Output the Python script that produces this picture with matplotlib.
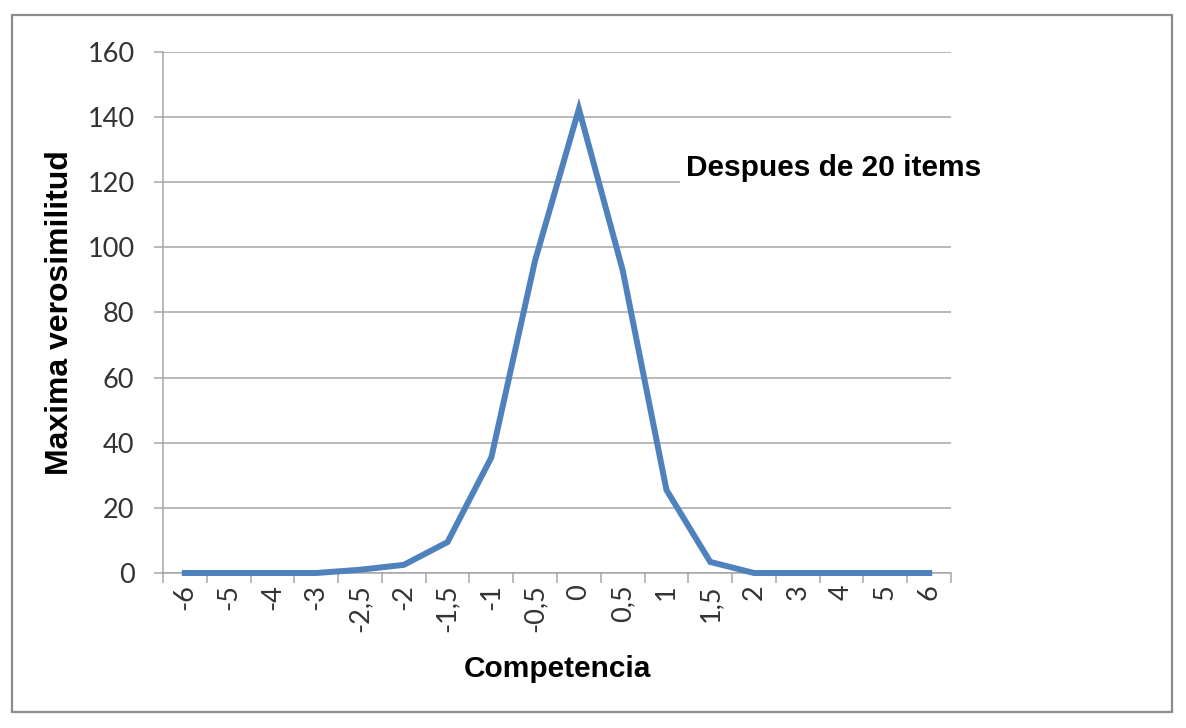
import matplotlib.pyplot as plt
from matplotlib.patches import Rectangle

# competencia (category labels) and likelihood values
categories = ['-6', '-5', '-4', '-3', '-2,5', '-2', '-1,5', '-1', '-0,5',
              '0', '0,5', '1', '1,5', '2', '3', '4', '5', '6']
values = [0, 0, 0, 0, 1, 2.5, 9.5, 35.5, 96, 142.5, 93, 25.5, 3.4, 0, 0, 0, 0, 0]
yticks = [0, 20, 40, 60, 80, 100, 120, 140, 160]

grid_col = '#a6a6a6'
tick_font = 'Lato'
bold_font = ['Liberation Sans', 'DejaVu Sans']

fig = plt.figure(figsize=(11.86, 7.28), dpi=100)
ax = fig.add_axes([0.1374, 0.2129, 0.8019 - 0.1374, 0.9286 - 0.2129])

x = list(range(len(categories)))
ax.plot(x, values, color='#4f81bd', lw=4.3, solid_joinstyle='miter', zorder=3,
        clip_on=False)

ax.set_xlim(-0.5, len(categories) - 0.5)
ax.set_ylim(0, 160)
ax.set_yticks(yticks)
ax.set_yticklabels([str(v) for v in yticks], fontsize=19.5, family=tick_font,
                   color='#333333')
ax.set_xticks(x)
ax.set_xticklabels(categories, rotation=90, fontsize=19.5, family=tick_font,
                   color='#333333', va='top', ha='center')
ax.set_xticks([i - 0.5 for i in range(len(categories) + 1)], minor=True)
ax.tick_params(axis='x', which='major', length=0, pad=8)
ax.tick_params(axis='x', which='minor', length=7, width=1.1, color=grid_col,
               direction='out')
ax.tick_params(axis='y', length=6.5, width=1.1, color=grid_col, pad=14)

ax.grid(axis='y', color=grid_col, lw=1.1, zorder=0)
for s in ['top', 'right']:
    ax.spines[s].set_visible(False)
for s in ['left', 'bottom']:
    ax.spines[s].set_color(grid_col)
    ax.spines[s].set_linewidth(1.1)

ax.set_xlabel('Competencia', fontsize=21.5, fontweight='bold', family=bold_font,
              labelpad=17)
ax.set_ylabel('Maxima verosimilitud', fontsize=23, fontweight='bold',
              family=bold_font)
ax.yaxis.set_label_coords(-0.112, 0.5)

ax.text(11.44, 124.4, 'Despues de 20 items', fontsize=21.5, fontweight='bold',
        family=bold_font, va='center', ha='left', clip_on=False, zorder=4,
        bbox=dict(facecolor='white', edgecolor='none', pad=4))

fig.patches.append(Rectangle((0.0101, 0.022), 0.9882 - 0.0101, 0.9794 - 0.022,
                             transform=fig.transFigure, fill=False,
                             edgecolor='#8c8c8c', lw=1.6))

fig.savefig('out.png', dpi=100)
